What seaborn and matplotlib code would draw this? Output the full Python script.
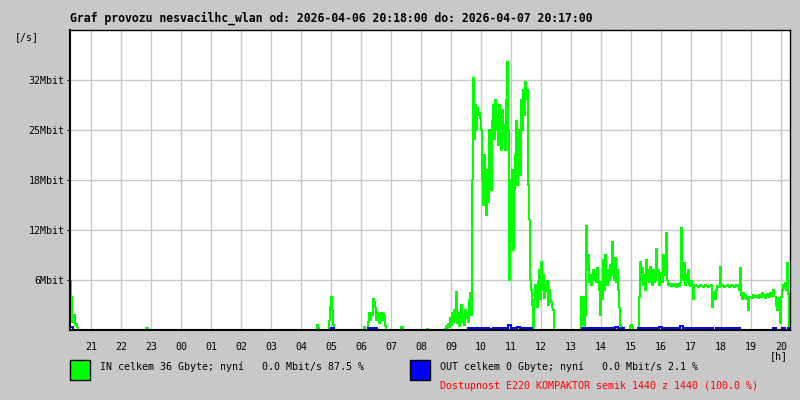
import numpy as np
import pandas as pd
import seaborn as sns
import matplotlib.pyplot as plt
from matplotlib.patches import Rectangle

sns.set_theme(style="white")
plt.rcParams['font.family'] = ['DejaVu Sans Mono', 'DejaVu Sans']
plt.rcParams['text.color'] = 'black'

# Graph window 2026-04-06 20:18 -> 2026-04-07 20:17
title = "Graf provozu nesvacilhc_wlan od: 2026-04-06 20:18:00 do: 2026-04-07 20:17:00"
hour_labels = ["21", "22", "23", "00", "01", "02", "03", "04", "05", "06", "07", "08",
               "09", "10", "11", "12", "13", "14", "15", "16", "17", "18", "19", "20"]
y_tick_vals = [6.25, 12.5, 18.75, 25.0, 31.25]
y_tick_labels = ["6Mbit", "12Mbit", "18Mbit", "25Mbit", "32Mbit"]

# IN traffic in Mbit/s, bursts, one value per 2 minutes
in_2018 = [6.1, 4.1, 1.0, 1.9, 1.9, 0.6, 0.8, 0.3, 0]
in_2250 = [0.3, 0.3, 0]
in_0432 = [0.6, 0.3, 0]
in_0456 = [1.2, 2.9, 4.2, 2.5, 0.6, 0]
in_0606 = [0.4, 0, 0, 0, 1.0, 2.2, 1.2, 2.1, 1.9, 3.9, 3.5, 2.8, 1.2, 1.8, 2.1, 0.8,
           1.5, 2.2, 1.2, 2.0, 1.8, 0.5, 0]
in_0720 = [0.4, 0.4, 0]
in_0812 = [0.1, 0]
in_0846 = [0, 0.2, 0.5, 0.2, 0.8, 0.4, 1.5, 0.6, 2.1, 1.0,
           2.5, 1.2, 4.8, 0.8, 2.2, 0.5, 1.8, 3.1, 1.0, 1.9,
           0.6, 2.5, 1.5, 2.2, 1.0, 3.8, 4.6, 1.9, 18.8, 31.5,
           23.8, 28.1, 25.0, 27.8, 26.9, 27.2, 26.5, 25.0, 18.8, 15.6,
           21.9, 17.5, 14.4, 20.0, 16.0, 25.0, 21.2, 17.5, 26.2, 28.1,
           23.8, 28.8, 25.0, 26.9, 23.1, 28.1, 25.0, 22.5, 27.5, 24.4,
           25.6, 22.5, 28.8, 33.5, 25.0, 6.2, 18.8, 11.2, 20.0, 10.0,
           17.5, 21.9, 26.2, 18.1, 25.0, 22.5, 19.4, 28.8, 25.0, 30.0,
           26.9, 31.0, 28.8, 30.0, 18.1, 13.8, 6.2, 5.0, 3.1, 0.2,
           3.8, 5.6, 4.4, 2.8, 6.0, 7.5, 3.8, 8.5, 5.0, 6.9,
           4.0, 5.6, 4.8, 6.2, 3.1, 5.0, 3.8, 3.5, 2.8, 2.5,
           0]
in_1320 = [4.1, 0.6, 4.1, 0, 1.9, 13.0, 7.5, 9.4, 6.0, 6.9,
           5.6, 6.5, 7.5, 6.2, 7.0, 6.0, 7.8, 6.2, 5.0, 1.9,
           6.0, 3.8, 8.8, 5.0, 9.4, 6.9, 5.6, 7.5, 6.2, 8.1,
           6.9, 11.0, 7.5, 6.2, 9.0, 6.0, 7.5, 5.0, 2.8, 0.6,
           0.4, 0.2, 0, 0, 0, 0, 0, 0, 0, 0.5,
           0.6, 0.4, 0, 0, 0, 0, 0, 0, 4.1, 8.5,
           6.2, 7.8, 5.6, 6.9, 5.0, 8.8, 6.5, 7.5, 6.0, 7.9,
           6.9, 5.6, 7.5, 6.0, 6.2, 10.2, 6.9, 7.5, 5.6, 6.5,
           7.2, 6.0, 9.4, 7.5, 6.9, 12.2, 6.2, 5.6, 5.8, 5.5,
           5.8, 5.6, 5.5, 5.8, 5.6, 5.4, 5.8, 5.6, 5.5, 5.9,
           12.8, 7.5, 6.2, 8.4, 5.6, 6.9, 6.0, 7.5, 5.6, 5.5,
           6.2, 5.6, 3.8, 5.5, 5.6, 5.5, 5.5, 5.4, 5.5, 5.6,
           5.5, 5.5, 5.4, 5.5, 5.6, 5.5, 5.5, 5.4, 5.5, 5.5,
           5.6, 2.9, 4.4, 4.8, 3.8, 5.0, 5.5, 5.5, 5.4, 7.9,
           5.5, 5.6, 5.5, 5.4, 5.5, 5.5, 5.6, 5.5, 5.4, 5.5,
           5.6, 5.5, 5.5, 5.4, 5.5, 5.6, 5.5, 5.6, 5.0, 7.8,
           4.4, 3.8, 4.6, 4.0, 4.4, 3.8, 4.1, 2.5, 4.2, 4.1,
           4.2, 4.0, 4.4, 4.2, 4.1, 4.3, 4.2, 4.0, 4.4, 4.2,
           4.1, 4.6, 4.2, 4.4, 4.0, 4.2, 4.5, 4.2, 4.1, 4.6,
           4.2, 4.4, 5.0, 4.2, 4.2, 3.0, 2.5, 4.0, 3.0, 0.9,
           4.1, 5.0, 5.6, 5.2, 5.9, 5.0, 8.4, 4.5, 0]

# OUT traffic in Mbit/s, one value per 6 minutes
out_2018 = [0.4, 0]
out_0500 = [0.2, 0]
out_0614 = [0.3, 0.3, 0.3, 0]
out_0934 = [0.2, 0.3, 0.2, 0.2, 0.3, 0.2, 0.2, 0]
out_1018 = [0.1, 0.2, 0.2, 0.3, 0.2, 0.3, 0.6, 0.3, 0.2, 0.4, 0.3, 0.2, 0.3, 0.2, 0]
out_1322 = [0.2, 0.3, 0.2, 0.3, 0.2, 0.3, 0.3, 0.2, 0.3, 0.2, 0.3, 0.4, 0.2, 0.3, 0]
out_1514 = [0.3, 0.2, 0.3, 0.3, 0.2, 0.3, 0.3, 0.4, 0.3, 0.3, 0.2, 0.3, 0.3, 0.3, 0.5,
            0.3, 0.3, 0.3, 0.2, 0.3, 0.2, 0.2, 0.3, 0.2, 0.2, 0, 0.2, 0.2, 0.2, 0.2,
            0.2, 0.2, 0.2, 0.2, 0]
out_1944 = [0.2, 0, 0, 0.3, 0, 0.3]


def to_min(clock):
    # minutes since the start of the window (20:18)
    h, m = map(int, clock.split(":"))
    return (h * 60 + m - (20 * 60 + 18)) % 1440


minutes = np.arange(0, 1440, 2)


def build(segments, step):
    vals = np.zeros(len(minutes))
    for clock, seg in segments:
        i0 = to_min(clock) // 2
        rep = np.repeat(seg, step // 2)[:len(vals) - i0]
        vals[i0:i0 + len(rep)] = rep
    return vals


in_vals = build([("20:18", in_2018), ("22:50", in_2250), ("04:32", in_0432),
                 ("04:56", in_0456), ("06:06", in_0606), ("07:20", in_0720),
                 ("08:12", in_0812), ("08:46", in_0846), ("13:20", in_1320)], 2)
out_vals = build([("20:18", out_2018), ("05:00", out_0500), ("06:14", out_0614),
                  ("09:34", out_0934), ("10:18", out_1018), ("13:22", out_1322),
                  ("15:14", out_1514), ("19:44", out_1944)], 6)

df = pd.DataFrame({"min": minutes, "IN": in_vals, "OUT": out_vals})

bg = "#c8c8c8"
fig = plt.figure(figsize=(8, 4), dpi=100, facecolor=bg)
ax = fig.add_axes([70 / 800, 70 / 400, 720 / 800, 300 / 400])
ax.set_facecolor("white")

sns.lineplot(data=df, x="min", y="IN", color="#00ff00", linewidth=0.55,
             drawstyle="steps-post", estimator=None, antialiased=False, ax=ax)
sns.lineplot(data=df, x="min", y="OUT", color="#0000ff", linewidth=0.8,
             drawstyle="steps-post", estimator=None, antialiased=False, ax=ax)

ax.set_xlim(0, 1440)
ax.set_ylim(0, 37.5)
ax.set_xticks([to_min(h + ":00") for h in hour_labels])
ax.set_xticklabels(hour_labels)
ax.set_yticks(y_tick_vals)
ax.set_yticklabels(y_tick_labels)
ax.set_xlabel("")
ax.set_ylabel("")
ax.grid(True, color=bg, linewidth=1)
ax.set_axisbelow(True)
ax.tick_params(axis="x", length=0, pad=8.5, labelsize=7.2, colors="black")
ax.tick_params(axis="y", length=2.5, width=0.8, pad=1.5, labelsize=7.2,
               colors="black", left=True)
for s in ax.spines.values():
    s.set_color("black")
    s.set_linewidth(1.0)
ax.spines["left"].set_linewidth(1.5)
ax.spines["bottom"].set_linewidth(1.5)


def px(x, y):
    return x / 800, 1 - y / 400


fig.text(*px(70, 18), title, fontsize=8.3, fontweight="bold", va="center", ha="left")
fig.text(*px(15, 37), "[/s]", fontsize=7.2, va="center", ha="left")
fig.text(*px(770, 356), "[h]", fontsize=7.2, va="center", ha="left")

fig.patches.append(Rectangle(px(70, 380), 20 / 800, 20 / 400, transform=fig.transFigure,
                             facecolor="#00ff00", edgecolor="black", linewidth=1))
fig.patches.append(Rectangle(px(410, 380), 20 / 800, 20 / 400, transform=fig.transFigure,
                             facecolor="#0000ff", edgecolor="black", linewidth=1))
fig.text(*px(100, 367), "IN celkem 36 Gbyte; nyní   0.0 Mbit/s 87.5 %",
         fontsize=7.2, va="center", ha="left")
fig.text(*px(440, 367), "OUT celkem 0 Gbyte; nyní   0.0 Mbit/s 2.1 %",
         fontsize=7.2, va="center", ha="left")
fig.text(*px(440, 386), "Dostupnost E220 KOMPAKTOR semik 1440 z 1440 (100.0 %)",
         fontsize=7.2, va="center", ha="left", color="#ff0000")

fig.savefig("out.png", dpi=100, facecolor=bg)
